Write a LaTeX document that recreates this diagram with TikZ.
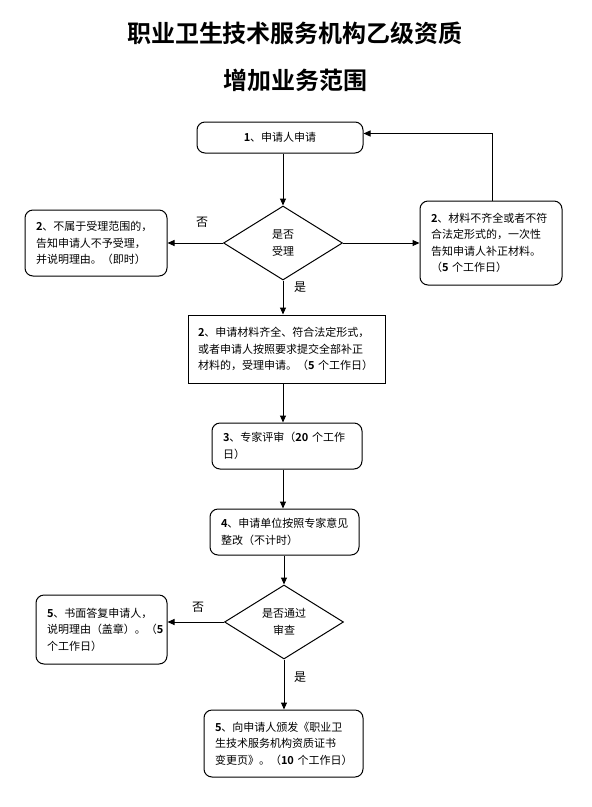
\documentclass[tikz,border=0pt]{standalone}
\usepackage{fontspec}
\setmainfont{Noto Sans CJK SC}[BoldFont={Noto Sans CJK SC Bold}]
\usetikzlibrary{arrows.meta,shapes.geometric}
\tikzset{
  every node/.style={font=\fontsize{11pt}{16.5pt}\selectfont},
  rbox/.style={draw, line width=1pt, rounded corners=8pt, align=left, inner xsep=11pt, inner ysep=0pt},
  sbox/.style={draw, line width=1pt, align=left, inner xsep=10pt, inner ysep=0pt},
  decide/.style={draw, diamond, line width=1pt, inner sep=0pt, align=center, minimum width=119pt, minimum height=74pt},
  arr/.style={line width=1pt, -{Triangle[length=7pt,width=6pt]}},
  lab/.style={font=\fontsize{12pt}{14pt}\selectfont},
  ttl/.style={font=\fontsize{24pt}{28pt}\selectfont\bfseries}
}
\begin{document}
\begin{tikzpicture}[x=1pt,y=-1pt]
\path[use as bounding box] (0,0) rectangle (592,807);
\node[ttl] (t1) at (295,33) {职业卫生技术服务机构乙级资质};
\node[ttl] (t2) at (295,80) {增加业务范围};

\node[rbox, text width=144pt, minimum height=31pt, align=center] (b1) at (280,137.5) {\textbf{1}、申请人申请};
\node[decide] (d1) at (283,243) {是否\\受理};
\node[rbox, text width=120pt, minimum height=66pt] (bL) at (96,243) {\textbf{2}、不属于受理范围的，\\告知申请人不予受理，\\并说明理由。（即时）};
\node[rbox, text width=120pt, minimum height=84pt] (bR) at (491,243) {\textbf{2}、材料不齐全或者不符\\合法定形式的，一次性\\告知申请人补正材料。\\（\textbf{5}~个工作日）};
\node[sbox, text width=177pt, minimum height=68pt] (b2) at (286.5,349) {\textbf{2}、申请材料齐全、符合法定形式，\\或者申请人按照要求提交全部补正\\材料的，受理申请。（\textbf{5}~个工作日）};
\node[rbox, text width=128pt, minimum height=46pt] (b3) at (287,446) {\textbf{3}、专家评审（\textbf{20}~个工作\\日）};
\node[rbox, text width=127pt, minimum height=46pt] (b4) at (284.5,532) {\textbf{4}、申请单位按照专家意见\\整改（不计时）};
\node[decide] (d2) at (284,622) {是否通过\\审查};
\node[rbox, text width=109pt, minimum height=69pt] (b5) at (101.5,629.5) {\textbf{5}、书面答复申请人，\\说明理由（盖章）。（\textbf{5}\\个工作日）};
\node[rbox, text width=137pt, minimum height=67pt] (b6) at (283.5,743.5) {\textbf{5}、向申请人颁发《职业卫\\生技术服务机构资质证书\\\mbox{变更页》。（\textbf{10}~个工作日）}};

\coordinate (ax) at (283,0);
\draw[arr] (ax|-b1.south) -- (d1.north);
\draw[arr] (d1.west) -- (bL.east);
\draw[arr] (d1.east) -- (bR.west);
\draw[arr] ([xshift=1pt]bR.north) |- ([yshift=4pt]b1.east);
\draw[arr] (d1.south) -- (ax|-b2.north);
\draw[arr] (ax|-b2.south) -- (ax|-b3.north);
\draw[arr] (ax|-b3.south) -- (ax|-b4.north);
\draw[arr] (d2.north|-b4.south) -- (d2.north);
\draw[arr] (d2.west) -- (d2.west-|b5.east);
\draw[arr] (d2.south) -- (d2.south|-b6.north);

\node[lab] (n1) at (202,222) {否};
\node[lab] (y1) at (300,287) {是};
\node[lab] (n2) at (198,607) {否};
\node[lab] (y2) at (300,677) {是};
\end{tikzpicture}
\end{document}
